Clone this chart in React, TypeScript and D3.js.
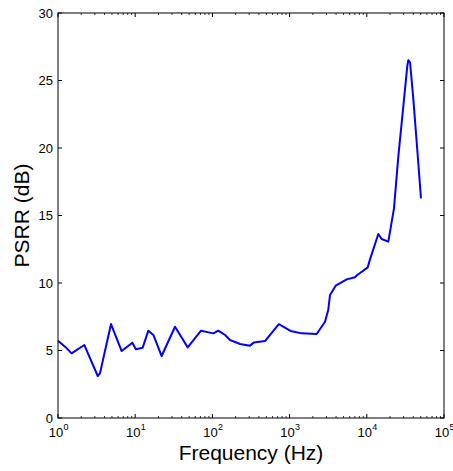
import React from "react";
import * as d3 from "d3";

const freq = [
  1, 1.3, 1.5, 2.19, 3.27, 3.5, 4.86, 6.68, 9.18, 10.2, 12.5, 14.8, 17.2, 22.0,
  32.8, 47.9, 71.2, 103, 119, 146, 169, 228, 307, 346, 480, 725, 1030, 1435,
  2243, 2875, 3165, 3337, 3955, 5495, 7030, 7530, 10280, 11000, 14100, 15560,
  19000, 22500, 25590, 29700, 33500, 34500, 36300, 40000, 45100, 50350,
];
const psrr = [
  5.73, 5.16, 4.79, 5.41, 3.11, 3.31, 6.96, 4.96, 5.58, 5.09, 5.21, 6.47, 6.15,
  4.59, 6.76, 5.23, 6.47, 6.27, 6.47, 6.15, 5.78, 5.48, 5.36, 5.6, 5.7, 6.95,
  6.45, 6.27, 6.22, 7.13, 8.0, 9.11, 9.8, 10.27, 10.42, 10.59, 11.16, 11.75,
  13.63, 13.26, 13.06, 15.53, 19.36, 23.06, 26.1, 26.5, 26.35, 23.68, 19.85,
  16.27,
];
const xDecades = [0, 1, 2, 3, 4, 5];
const yTicks = [0, 5, 10, 15, 20, 25, 30];

const W = 453;
const H = 471;
const m = { left: 58, right: 9, top: 13, bottom: 53 };
const font = "'Liberation Sans', Arial, Helvetica, sans-serif";

export default function App() {
  const x = d3.scaleLog().domain([1, 1e5]).range([m.left, W - m.right]);
  const y = d3.scaleLinear().domain([0, 30]).range([H - m.bottom, m.top]);
  const pts: [number, number][] = freq.map((f, i) => [f, psrr[i]]);
  const line = d3
    .line<[number, number]>()
    .x((d) => x(d[0]))
    .y((d) => y(d[1]));

  const x0 = m.left, x1 = W - m.right, y0 = H - m.bottom, y1 = m.top;
  const minor: number[] = [];
  xDecades.slice(0, -1).forEach((e) => {
    for (let k = 2; k <= 9; k++) minor.push(k * Math.pow(10, e));
  });

  return (
    <svg width={W} height={H} style={{ position: "absolute", left: 0, top: 0, background: "#fff" }}>
      <rect x={x0} y={y1} width={x1 - x0} height={y0 - y1} fill="#fff" />
      <path d={line(pts) ?? ""} fill="none" stroke="#0000ff" strokeWidth={2} strokeLinejoin="round" />
      {/* box */}
      <rect x={x0} y={y1} width={x1 - x0} height={y0 - y1} fill="none" stroke="#000" strokeWidth={1} />
      {/* x ticks */}
      {xDecades.map((e) => {
        const px = x(Math.pow(10, e));
        return (
          <g key={"xt" + e}>
            <line x1={px} x2={px} y1={y0} y2={y0 - 4} stroke="#000" />
            <line x1={px} x2={px} y1={y1} y2={y1 + 4} stroke="#000" />
            <text x={px - 2} y={y0 + 19} fontFamily={font} fontSize={13} textAnchor="middle">
              10
            </text>
            <text x={px + 8} y={y0 + 12} fontFamily={font} fontSize={9} textAnchor="middle">
              {e}
            </text>
          </g>
        );
      })}
      {minor.map((v, i) => (
        <g key={"mn" + i}>
          <line x1={x(v)} x2={x(v)} y1={y0} y2={y0 - 2} stroke="#000" strokeWidth={0.8} />
          <line x1={x(v)} x2={x(v)} y1={y1} y2={y1 + 2} stroke="#000" strokeWidth={0.8} />
        </g>
      ))}
      {/* y ticks */}
      {yTicks.map((t) => (
        <g key={"yt" + t}>
          <line x1={x0} x2={x0 + 4} y1={y(t)} y2={y(t)} stroke="#000" />
          <line x1={x1} x2={x1 - 4} y1={y(t)} y2={y(t)} stroke="#000" />
          <text x={x0 - 5} y={y(t) + 4.5} fontFamily={font} fontSize={13} textAnchor="end">
            {t}
          </text>
        </g>
      ))}
      <text x={(x0 + x1) / 2} y={H - 11} fontFamily={font} fontSize={21} textAnchor="middle">
        Frequency (Hz)
      </text>
      <text
        transform={`translate(29,${(y0 + y1) / 2}) rotate(-90)`}
        fontFamily={font}
        fontSize={21}
        textAnchor="middle"
      >
        PSRR (dB)
      </text>
    </svg>
  );
}
